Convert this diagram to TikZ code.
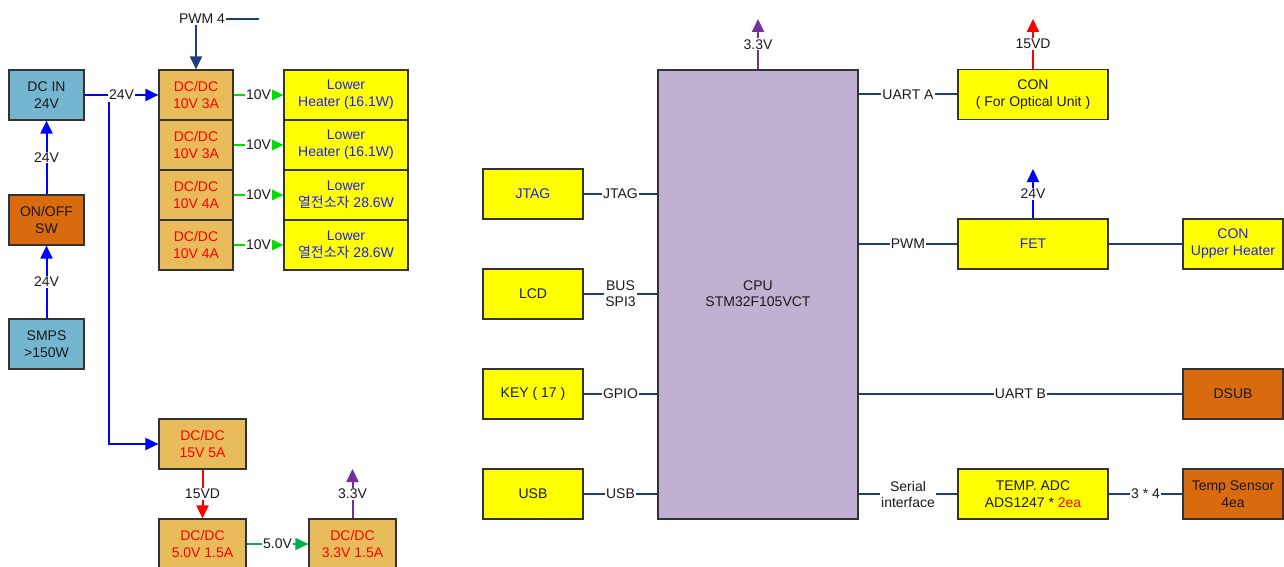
\documentclass[tikz,border=0pt]{standalone}
\usepackage{fontspec}
\setmainfont{Liberation Sans}
\newfontfamily\kr{Noto Sans CJK KR}
\usetikzlibrary{arrows.meta}
\definecolor{cbox}{HTML}{74B6D0}
\definecolor{obox}{HTML}{D96A0E}
\definecolor{dbox}{HTML}{E8BC5A}
\definecolor{ybox}{HTML}{FFFF00}
\definecolor{pbox}{HTML}{C0B0D1}
\definecolor{navyc}{HTML}{1F3C7E}
\definecolor{bluec}{HTML}{0000FF}
\definecolor{greenc}{HTML}{00E000}
\definecolor{green2c}{HTML}{00B050}
\definecolor{redc}{HTML}{FF0000}
\definecolor{purpc}{HTML}{7030A0}
\definecolor{tblue}{HTML}{1F1FFF}
\definecolor{tdark}{HTML}{1A1A1A}
\begin{document}
\begin{tikzpicture}[x=1pt,y=-1pt,
  box/.style={draw=black!80, line width=1.2pt, inner sep=0pt, align=center,
    font=\fontsize{14}{17}\selectfont, text=tdark},
  wbox/.style={box, minimum width=75pt, minimum height=50pt},
  lbl/.style={fill=white, inner sep=1pt, font=\fontsize{14}{16}\selectfont, text=tdark, align=center},
  tip/.style={-{Triangle[length=13pt,width=12pt]}},
  bline/.style={draw=bluec, line width=2pt, tip},
  gline/.style={draw=greenc, line width=1.8pt, tip},
  g2line/.style={draw=green2c, line width=1.8pt, tip},
  rline/.style={draw=redc, line width=2pt, tip},
  pline/.style={draw=purpc, line width=2pt, tip},
  nline/.style={draw=navyc, line width=2pt}]
\useasboundingbox[fill=white] (0,0) rectangle (1284,567);

% left power section
\node[wbox, fill=cbox] (dcin) at (46.5,95) {DC IN\\24V};
\node[wbox, fill=obox] (onoff) at (46.5,220) {ON/OFF\\SW};
\node[wbox, fill=cbox] (smps) at (46.5,344) {SMPS\\{>}150W};

\node[box, fill=dbox, text=redc, minimum width=74pt, minimum height=50pt] (d1) at (196,95) {DC/DC\\10V 3A};
\node[box, fill=dbox, text=redc, minimum width=74pt, minimum height=50pt] (d2) at (196,145) {DC/DC\\10V 3A};
\node[box, fill=dbox, text=redc, minimum width=74pt, minimum height=50pt] (d3) at (196,195) {DC/DC\\10V 4A};
\node[box, fill=dbox, text=redc, minimum width=74pt, minimum height=50pt] (d4) at (196,245) {DC/DC\\10V 4A};

\node[box, fill=ybox, text=tblue, minimum width=124pt, minimum height=50pt] (h1) at (346,95) {Lower\\Heater (16.1W)};
\node[box, fill=ybox, text=tblue, minimum width=124pt, minimum height=50pt] (h2) at (346,145) {Lower\\Heater (16.1W)};
\node[box, fill=ybox, text=tblue, minimum width=124pt, minimum height=50pt] (h3) at (346,195) {Lower\\{\kr 열전소자} 28.6W};
\node[box, fill=ybox, text=tblue, minimum width=124pt, minimum height=50pt] (h4) at (346,245) {Lower\\{\kr 열전소자} 28.6W};

\node[box, fill=dbox, text=redc, minimum width=87pt, minimum height=50pt] (d15) at (202.5,444) {DC/DC\\15V 5A};
\node[box, fill=dbox, text=redc, minimum width=87pt, minimum height=50pt] (d5) at (202.5,544) {DC/DC\\5.0V 1.5A};
\node[box, fill=dbox, text=redc, minimum width=87pt, minimum height=50pt] (d33) at (352.5,544) {DC/DC\\3.3V 1.5A};

\draw[bline] (smps.north) -- node[lbl]{24V} (onoff.south);
\draw[bline] (onoff.north) -- node[lbl]{24V} (dcin.south);
\draw[bline] (dcin.east) -- node[lbl] (l24) {24V} (d1.west);
\coordinate (vx) at (109,0);
\draw[bline] (l24.south -| vx) |- (d15.west);

\foreach \i in {1,2,3,4}
  \draw[gline] (d\i.east) -- node[lbl]{10V} (h\i.west);

\node[lbl] (pwm) at (202,19) {PWM 4};
\coordinate (pwmend) at (259,19);
\draw[nline] (pwm.east) -- (pwmend);
\draw[nline, tip] (pwm.south -| d1.north) -- (d1.north);

\draw[rline] (d15.south) -- node[lbl]{15VD} (d5.north);
\draw[g2line] (d5.east) -- node[lbl]{5.0V} (d33.west);
\coordinate (p33) at (352.5,469);
\draw[pline] (d33.north) -- node[lbl]{3.3V} (p33);

% right controller section
\node[box, fill=pbox, minimum width=200pt, minimum height=449pt] (cpu) at (758,294.5) {};
\node[font=\fontsize{14}{16}\selectfont, text=tdark, align=center] (cputxt) at (758,294) {CPU\\STM32F105VCT};

\node[box, fill=ybox, text=tblue, minimum width=100pt, minimum height=50pt] (jtag) at (533,194) {JTAG};
\node[box, fill=ybox, minimum width=100pt, minimum height=50pt] (lcd) at (533,294) {LCD};
\node[box, fill=ybox, minimum width=100pt, minimum height=50pt] (key) at (533,394) {KEY ( 17 )};
\node[box, fill=ybox, minimum width=100pt, minimum height=50pt] (usb) at (533,494) {USB};

\node[box, fill=ybox, minimum width=150pt, minimum height=50pt] (con) at (1033,94.5) {CON\\( For Optical Unit )};
\node[box, fill=ybox, text=tblue, minimum width=150pt, minimum height=50pt] (fet) at (1033,244) {FET};
\node[box, fill=ybox, minimum width=150pt, minimum height=50pt] (adc) at (1033,494) {TEMP. ADC\\ADS1247 * \textcolor{redc}{2ea}};

\node[box, fill=ybox, text=tblue, minimum width=100pt, minimum height=50pt] (conu) at (1233,244) {CON\\Upper Heater};
\node[box, fill=obox, minimum width=100pt, minimum height=50pt] (dsub) at (1233,394) {DSUB};
\node[box, fill=obox, minimum width=100pt, minimum height=50pt] (ts) at (1233,494) {Temp Sensor\\4ea};

\coordinate (pc) at (758,19);
\draw[pline] (cpu.north) -- node[lbl]{3.3V} (pc);
\coordinate (pcon) at (1033,19);
\draw[rline] (con.north) -- node[lbl]{15VD} (pcon);
\coordinate (pfet) at (1033,169);
\draw[bline] (fet.north) -- node[lbl]{24V} (pfet);

\draw[nline] (jtag.east) -- node[lbl]{JTAG} (jtag.east -| cpu.west);
\draw[nline] (lcd.east) -- node[lbl]{BUS\\SPI3} (lcd.east -| cpu.west);
\draw[nline] (key.east) -- node[lbl]{GPIO} (key.east -| cpu.west);
\draw[nline] (usb.east) -- node[lbl]{USB} (usb.east -| cpu.west);

\draw[nline] (con.west -| cpu.east) -- node[lbl]{UART A} (con.west);
\draw[nline] (fet.west -| cpu.east) -- node[lbl]{PWM} (fet.west);
\draw[nline] (fet.east) -- (conu.west);
\draw[nline] (dsub.west -| cpu.east) -- node[lbl]{UART B} (dsub.west);
\draw[nline] (adc.west -| cpu.east) -- node[lbl]{Serial\\interface} (adc.west);
\draw[nline] (adc.east) -- node[lbl]{3 * 4} (ts.west);
\end{tikzpicture}
\end{document}
